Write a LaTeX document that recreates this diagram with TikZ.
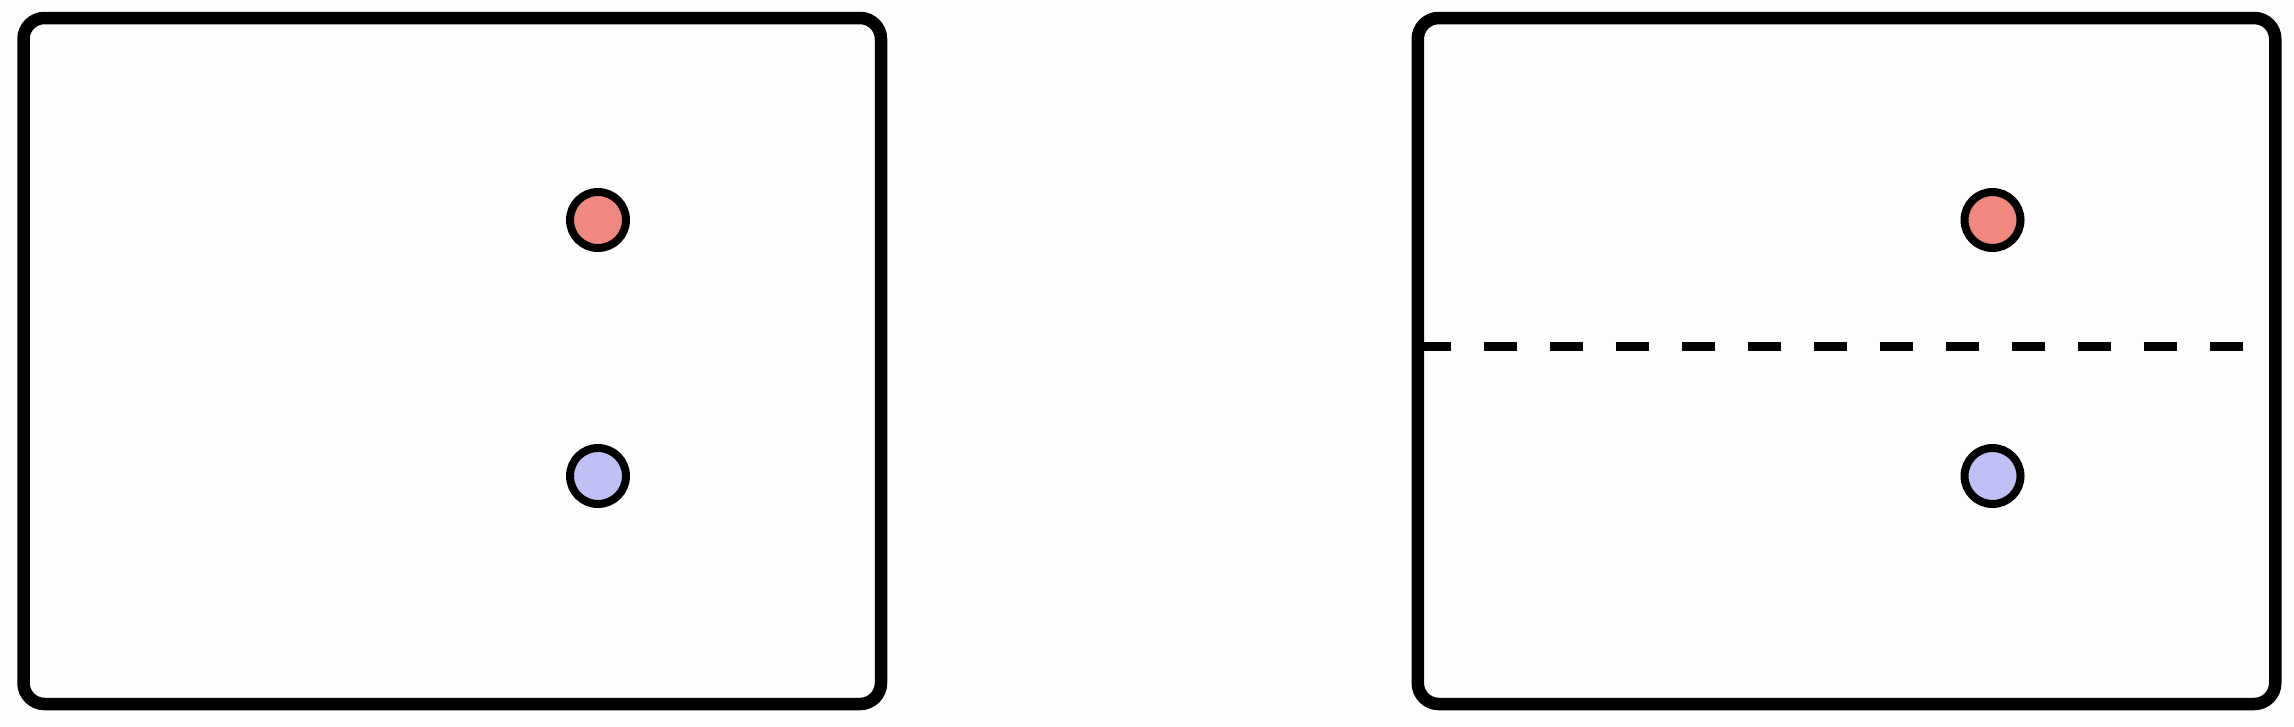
\documentclass[tikz,border=0pt]{standalone}
\usepackage{tikz}
\usetikzlibrary{positioning}
\definecolor{pagebg}{HTML}{FDFDFE}
\definecolor{chargepos}{HTML}{F08880}
\definecolor{chargeneg}{HTML}{C0C0F6}
\tikzset{
  panel/.style={draw=black, line width=12.5pt, rounded corners=21pt, inner sep=0pt, outer sep=0pt, minimum width=857.5pt, minimum height=686pt},
  particle/.style={circle, draw=black, line width=8pt, inner sep=0pt, minimum size=56pt},
  cutline/.style={line width=9pt, dash pattern=on 33pt off 33pt}
}
\begin{document}
\begin{tikzpicture}[x=1pt,y=-1pt]
\useasboundingbox (0,0) rectangle (2294,726);
\fill[pagebg] (0,0) rectangle (2294,726);
% left panel: two particles
\node[panel] (panelA) at (452.25,361) {};
\node[particle, fill=chargepos] (redA) at (598,220) {};
\node[particle, fill=chargeneg] (blueA) at (598,476) {};
% right panel: same particles, cut in half
\node[panel] (panelB) at (1846.5,361) {};
\node[particle, fill=chargepos] (redB) at (1992.5,220) {};
\node[particle, fill=chargeneg] (blueB) at (1992.5,476) {};
\coordinate (cutL) at (panelB.west |- 0,346);
\coordinate (cutR) at (panelB.east |- 0,346);
\draw[cutline] (cutL) -- (cutR);
\end{tikzpicture}
\end{document}
